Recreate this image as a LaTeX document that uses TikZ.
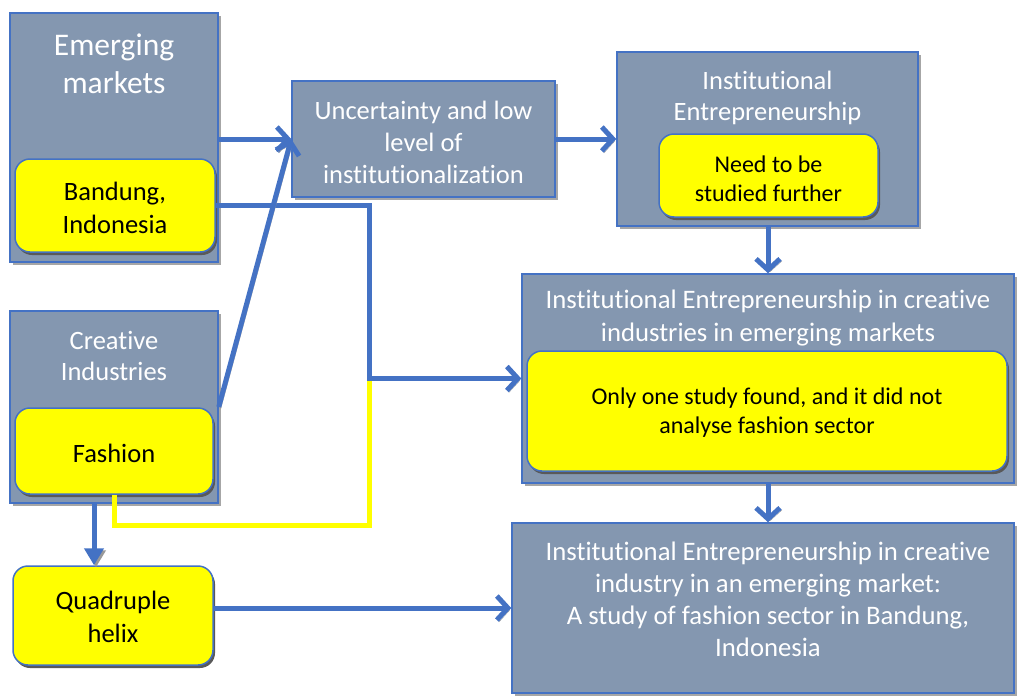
\documentclass[tikz,border=0pt]{standalone}
\usepackage{fontspec}
\setmainfont{Carlito}[Ligatures=NoCommon]
\usetikzlibrary{arrows.meta,shadows}
\definecolor{boxgray}{HTML}{8497B0}
\definecolor{boxblue}{HTML}{4472C4}
\definecolor{ylw}{HTML}{FFFF00}
\tikzset{
  graybox/.style={draw=boxblue, line width=1.5pt, fill=boxgray, inner sep=0pt,
    drop shadow={shadow xshift=3pt,shadow yshift=-3pt,fill=black!35,opacity=1}},
  ylwbox/.style={draw=boxblue, line width=1.5pt, fill=ylw, rounded corners=15pt, inner sep=0pt,
    drop shadow={shadow xshift=2pt,shadow yshift=-3pt,fill=black!65,opacity=1}},
  wtext/.style={text=white, align=center, inner sep=0pt},
  btext/.style={text=black, align=center, inner sep=0pt},
  conn/.style={draw=boxblue, line width=5pt,
    preaction={draw=black!40, transform canvas={shift={(2pt,-2pt)}}}},
  ylwconn/.style={draw=ylw, line width=5pt,
    preaction={draw=black!30, transform canvas={shift={(2pt,-2pt)}}}},
  chev/.style={-{Straight Barb[length=11pt,width=24pt]}},
  tri/.style={-{Triangle[length=17pt,width=19pt]}}
}
\begin{document}
\begin{tikzpicture}[x=1pt,y=-1pt]
\useasboundingbox (0,0) rectangle (1019,696);
% boxes
\node[graybox, minimum width=208pt, minimum height=249pt] (A) at (114,137.5) {};
\node[wtext, font=\fontsize{31.5}{38}\selectfont] (At) at (114,64) {Emerging\\markets};
\node[ylwbox, minimum width=200pt, minimum height=93pt] (Bnd) at (115,205.5) {};
\node[btext, font=\fontsize{26.5}{33}\selectfont] (Bndt) at (115,208) {Bandung,\\Indonesia};

\node[graybox, minimum width=263pt, minimum height=116pt] (B) at (423.5,139) {};
\node[wtext, font=\fontsize{26.5}{32}\selectfont] (Bt) at (423.5,142) {Uncertainty and low\\level of\\institutionalization};

\node[graybox, minimum width=301pt, minimum height=174pt] (C) at (767.5,139) {};
\node[wtext, font=\fontsize{26.5}{31}\selectfont] (Ct) at (767.5,97.5) {Institutional\\Entrepreneurship};
\node[ylwbox, minimum width=219pt, minimum height=83pt] (Ci) at (768.5,175.5) {};
\node[btext, font=\fontsize{24}{29}\selectfont] (Cit) at (768.5,179) {Need to be\\studied further};

\node[graybox, minimum width=492pt, minimum height=209pt] (D) at (768,378.5) {};
\node[wtext, font=\fontsize{26.7}{33}\selectfont] (Dt) at (768,318.5) {Institutional Entrepreneurship in creative\\industries in emerging markets};
\node[ylwbox, minimum width=480pt, minimum height=120pt] (Di) at (767,411) {};
\node[btext, font=\fontsize{24}{29}\selectfont] (Dit) at (767,412.5) {Only one study found, and it did not\\analyse fashion sector};

\node[graybox, minimum width=502pt, minimum height=170pt] (E) at (763,608) {};
\node[wtext, font=\fontsize{26.7}{32}\selectfont] (Et) at (768,599.5) {Institutional Entrepreneurship in creative\\industry in an emerging market:\\A study of fashion sector in Bandung,\\Indonesia};

\node[graybox, minimum width=208pt, minimum height=192pt] (F) at (114,407) {};
\node[wtext, font=\fontsize{26.5}{31}\selectfont] (Ft) at (114,355.5) {Creative\\Industries};
\node[ylwbox, minimum width=198pt, minimum height=86pt] (Fa) at (114,451) {};
\node[btext, font=\fontsize{26.5}{31}\selectfont] (Fat) at (114,453) {Fashion};

\node[ylwbox, minimum width=200pt, minimum height=99pt] (Q) at (113,615.5) {};
\node[btext, font=\fontsize{26.5}{33}\selectfont] (Qt) at (113,616.5) {Quadruple\\helix};

% helper coordinates
\coordinate (jx) at (369,0);
\coordinate (fy) at (0,525);
\coordinate (fq) at (94,0);

% connectors
\draw[ylwconn] (Fa.south) |- (jx |- fy) -- (jx |- D.west);
\draw[conn, chev] (Bnd.east) -| (jx |- D.west) -- (D.west);
\draw[conn, chev] (A.east |- B.west) -- (B.west);
\draw[conn, chev] (F.east) -- (B.west);
\draw[conn, chev] (B.east) -- (C.west |- B.east);
\draw[conn, chev] (C.south -| D.north) -- (D.north);
\draw[conn, chev] (D.south) -- (D.south |- E.north);
\draw[conn, tri] (fq |- F.south) -- (fq |- Q.north);
\draw[conn, chev] (Q.east |- E.west) -- (E.west);
\end{tikzpicture}
\end{document}
